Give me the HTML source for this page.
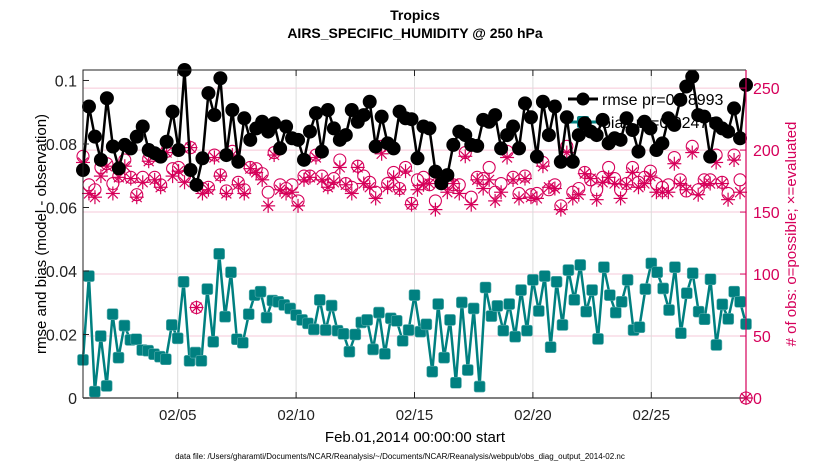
<!DOCTYPE html>
<html><head><meta charset="utf-8"><style>
body{margin:0;background:#fff}
svg text{font-family:"Liberation Sans",sans-serif}
</style></head><body>
<svg id="chart" width="830" height="470" viewBox="0 0 830 470" xmlns="http://www.w3.org/2000/svg">
<rect width="830" height="470" fill="#fff"/>
<text x="415" y="20" text-anchor="middle" font-size="14" font-weight="bold">Tropics</text>
<text x="415" y="38" text-anchor="middle" font-size="14" font-weight="bold">AIRS_SPECIFIC_HUMIDITY @ 250 hPa</text>
<g id="grid"></g>
<g id="legend">
<line x1="568" y1="99" x2="598" y2="99" stroke="#000" stroke-width="3"/>
<circle cx="583" cy="99" r="6.5" fill="#000"/>
<text x="602" y="105" font-size="16">rmse pr=0.08993</text>
<line x1="568" y1="122" x2="598" y2="122" stroke="#008080" stroke-width="3"/>
<rect x="577" y="116" width="12" height="12" rx="2" fill="#008080"/>
<text x="602" y="128" font-size="16">bias pr=0.02479</text>
</g>
<g id="marks"></g>
<g id="axes"></g>
<text transform="translate(46,234) rotate(-90)" text-anchor="middle" font-size="15">rmse and bias (model - observation)</text>
<text transform="translate(796,234) rotate(-90)" text-anchor="middle" font-size="15" fill="#d6005a">#  of obs: o=possible; ×=evaluated</text>
<text x="415" y="442" text-anchor="middle" font-size="15">Feb.01,2014 00:00:00 start</text>
<text x="400" y="459" text-anchor="middle" font-size="8">data file: /Users/gharamti/Documents/NCAR/Reanalysis/~/Documents/NCAR/Reanalysis/webpub/obs_diag_output_2014-02.nc</text>
</svg>
<script>
const rmse=[0.0718,0.0918,0.0823,0.0750,0.0944,0.0792,0.0723,0.0797,0.0786,0.0823,0.0855,0.0781,0.0771,0.0760,0.0807,0.0902,0.0781,0.1033,0.0718,0.0671,0.0755,0.0960,0.0891,0.1007,0.0765,0.0907,0.0744,0.0881,0.0813,0.0849,0.0870,0.0839,0.0865,0.0786,0.0855,0.0818,0.0813,0.0750,
0.0839,0.0897,0.0776,0.0907,0.0849,0.0813,0.0828,0.0907,0.0870,0.0891,0.0933,0.0792,0.0886,0.0802,0.0786,0.0902,0.0881,0.0878,0.0755,0.0855,0.0849,0.0713,0.0676,0.0702,0.0797,0.0839,0.0828,0.0797,0.0794,0.0876,0.0870,0.0891,0.0786,0.0828,0.0855,0.0786,0.0928,
0.0884,0.0760,0.0933,0.0828,0.0918,0.0744,0.0884,0.0744,0.0828,0.0865,0.0839,0.0828,0.0876,0.0802,0.0818,0.0813,0.0881,0.0844,0.0776,0.0870,0.0849,0.0781,0.0802,0.0881,0.0860,0.0939,0.0981,0.1012,0.0891,0.0886,0.0760,0.0865,0.0849,0.0839,0.0912,0.0818,0.0986];
const bias=[0.0120,0.0384,0.0020,0.0195,0.0038,0.0264,0.0127,0.0228,0.0183,0.0185,0.0151,0.0149,0.0138,0.0130,0.0122,0.0230,0.0188,0.0366,0.0117,0.0143,0.0117,0.0343,0.0177,0.0454,0.0256,0.0396,0.0185,0.0174,0.0264,0.0324,0.0335,0.0253,0.0307,0.0303,0.0293,0.0282,0.0261,0.0246,0.0235,0.0216,0.0309,0.0214,0.0291,0.0212,0.0202,0.0146,0.0200,0.0238,0.0246,0.0153,0.0269,0.0139,0.0251,0.0243,0.0180,0.0214,0.0324,
0.0209,0.0232,0.0083,0.0296,0.0127,0.0246,0.0048,0.0301,0.0088,0.0282,0.0036,0.0348,0.0258,0.0290,0.0212,0.0296,0.0193,0.0340,0.0212,0.0372,0.0274,0.0384,0.0160,0.0366,0.0230,0.0403,0.0309,0.0419,0.0272,0.0340,0.0186,0.0412,0.0324,0.0269,0.0303,0.0372,0.0214,0.0223,0.0343,0.0424,0.0396,0.0345,0.0277,0.0412,0.0204,0.0330,0.0393,0.0272,0.0248,0.0374,0.0167,0.0295,0.0249,0.0335,0.0303,0.0233];
const possible=[195,172,168,186,189,173,179,192,178,164,178,193,178,172,199,185,186,179,202,73,169,170,196,180,167,199,174,168,186,185,181,166,198,172,169,172,159,179,
179,196,179,172,177,192,173,170,187,179,174,166,203,173,182,169,186,157,176,178,172,159,178,173,172,172,198,162,178,177,186,166,173,199,178,165,179,
164,165,190,168,172,155,203,166,169,182,176,168,178,186,177,168,173,186,174,178,183,173,170,172,194,176,167,203,168,176,176,196,174,165,196,176,0];
const evaluated=[190,165,162,179,187,165,178,187,177,162,174,191,176,170,198,179,183,174,202,73,165,168,194,179,165,196,172,165,185,182,176,155,196,168,165,166,155,176,
178,194,176,170,174,186,172,165,186,173,170,161,197,170,178,168,183,156,168,172,173,152,174,166,173,165,195,156,176,169,176,159,166,194,176,161,177,
162,161,187,170,169,152,198,161,164,181,177,160,174,178,173,161,172,182,170,173,179,166,166,166,189,173,168,198,164,173,173,190,173,160,192,166,0];
const xTickLabels=["02/05","02/10","02/15","02/20","02/25"];
const xTickDays=[4,9,14,19,24];
const yLeftTicks=[0,0.02,0.04,0.06,0.08,0.1];
const yLeftLabels=["0","0.02","0.04","0.06","0.08","0.1"];
const yRightTicks=[0,50,100,150,200,250];

const L=83,R=746,T=70,B=398;
const X=d=>L+d/28*(R-L);
const YL=v=>B-v/0.1033*(B-T);
const YR=c=>B-c/264.6*(B-T);
const NS="http://www.w3.org/2000/svg";
function mk(tag,parent,attrs){const e=document.createElementNS(NS,tag);for(const k in attrs)e.setAttribute(k,attrs[k]);parent.appendChild(e);return e;}
const grid=document.getElementById('grid'),marks=document.getElementById('marks'),axes=document.getElementById('axes');
yRightTicks.forEach(c=>{const g=mk('line',grid,{x1:L,x2:R,y1:YR(c),y2:YR(c),stroke:'#f6c8d8','stroke-width':1});

});
xTickDays.forEach(d=>{const g=mk('line',grid,{x1:X(d),x2:X(d),y1:T,y2:B,stroke:'#dcdcdc','stroke-width':1});

});
const dayOf=(i,n)=>i*28/(n-1);
function star(cx,cy,r,parent){const g=mk('g',parent,{stroke:'#d6005a','stroke-width':1.2});
for(let k=0;k<4;k++){const a=k*Math.PI/4;mk('line',g,{x1:cx-r*Math.cos(a),y1:cy-r*Math.sin(a),x2:cx+r*Math.cos(a),y2:cy+r*Math.sin(a)});}return g;}
possible.forEach((c,i)=>{const m=mk('circle',marks,{cx:X(dayOf(i,possible.length)),cy:YR(c),r:6,fill:'none',stroke:'#d6005a','stroke-width':1.1});

});
evaluated.forEach((c,i)=>{const m=star(X(dayOf(i,evaluated.length)),YR(c),7,marks);

});
const rp=rmse.map((v,i)=>X(dayOf(i,rmse.length)).toFixed(1)+','+YL(v).toFixed(1)).join(' ');
const rl=mk('polyline',marks,{points:rp,fill:'none',stroke:'#000','stroke-width':2.5});


rmse.forEach((v,i)=>{const m=mk('circle',marks,{cx:X(dayOf(i,rmse.length)),cy:YL(v),r:7,fill:'#000'});

});
const bp=bias.map((v,i)=>X(dayOf(i,bias.length)).toFixed(1)+','+YL(v).toFixed(1)).join(' ');
const bl=mk('polyline',marks,{points:bp,fill:'none',stroke:'#008080','stroke-width':2.5});


bias.forEach((v,i)=>{const m=mk('rect',marks,{x:X(dayOf(i,bias.length))-5.5,y:YL(v)-5.5,width:11,height:11,rx:2,fill:'#008080',stroke:'#5fb0b0','stroke-width':0.6});

});
const fr=mk('path',axes,{d:`M${L},${B}V${T}H${R}`,fill:'none',stroke:'#222','stroke-width':1});


const xb=mk('line',axes,{x1:L,x2:R,y1:B,y2:B,stroke:'#555','stroke-width':1.5});


const ra=mk('line',axes,{x1:R,x2:R,y1:T,y2:B,stroke:'#d6005a','stroke-width':1.2});


xTickDays.forEach((d,i)=>{mk('line',axes,{x1:X(d),x2:X(d),y1:B,y2:B-6,stroke:'#222'});mk('line',axes,{x1:X(d),x2:X(d),y1:T,y2:T+6,stroke:'#222'});
const t=mk('text',axes,{x:X(d),y:B+22,'text-anchor':'middle','font-size':15,fill:'#222'});t.textContent=xTickLabels[i];

});
yLeftTicks.forEach((v,i)=>{mk('line',axes,{x1:L,x2:L+6,y1:YL(v),y2:YL(v),stroke:'#222'});
const t=mk('text',axes,{x:L-6,y:YL(v)+6,'text-anchor':'end','font-size':16,fill:'#222'});t.textContent=yLeftLabels[i];

});
yRightTicks.forEach(c=>{mk('line',axes,{x1:R-6,x2:R,y1:YR(c),y2:YR(c),stroke:'#d6005a'});
const t=mk('text',axes,{x:R+7,y:YR(c)+6,'font-size':16,fill:'#d6005a'});t.textContent=String(c);

});
</script>
</body></html>
